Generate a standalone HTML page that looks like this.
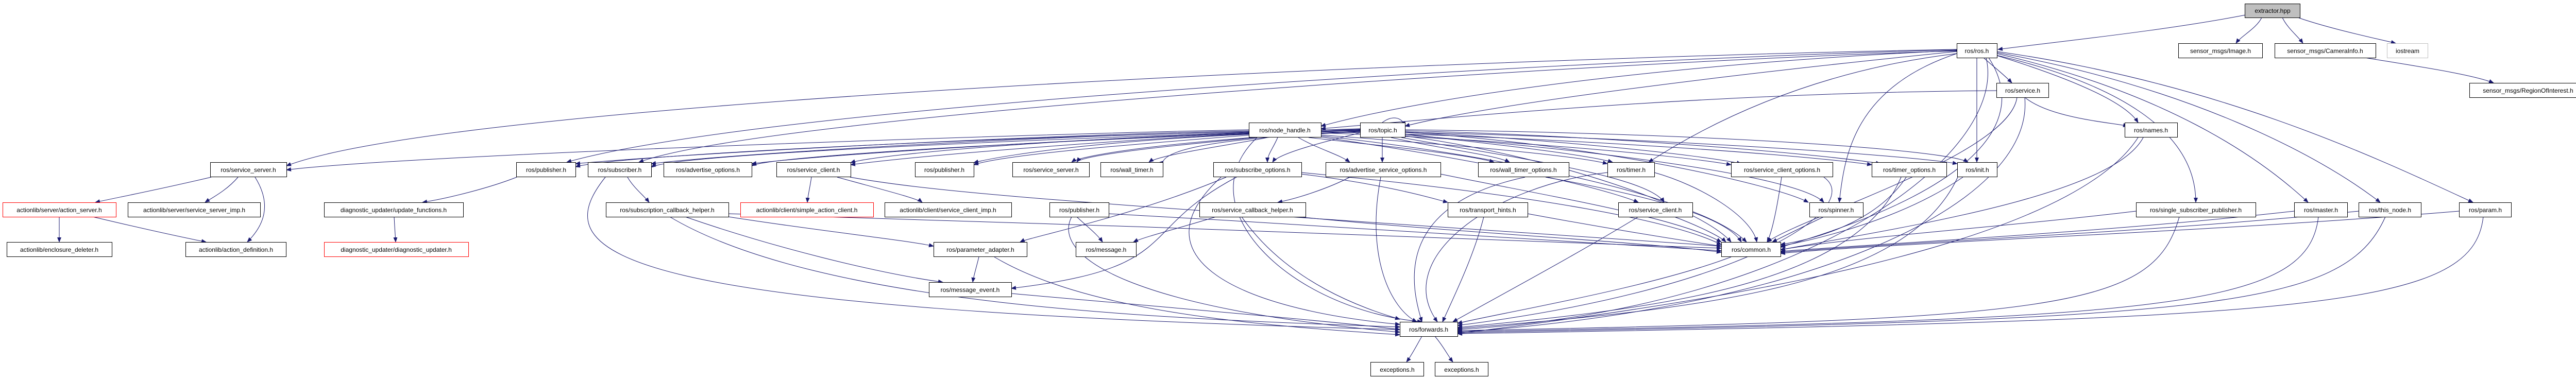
<!DOCTYPE html>
<html><head><meta charset="utf-8"><style>
html,body{margin:0;padding:0;background:#fff;}
svg{display:block;}
text{font-family:"Liberation Sans",sans-serif;font-size:12px;fill:#000;}
.n{fill:#fff;stroke:#000;stroke-width:1;}
.r{fill:#fff;stroke:#ff0000;stroke-width:1;}
.e{fill:none;stroke:#191970;stroke-width:1;marker-end:url(#a);}
</style></head><body>
<svg width="5025" height="736" viewBox="0 0 5025 736" xmlns="http://www.w3.org/2000/svg">
<defs><marker id="a" markerWidth="10" markerHeight="8" refX="9" refY="4" orient="auto" markerUnits="userSpaceOnUse"><polygon points="0,0 10,4 0,8" fill="#191970"/></marker></defs>
<g>
<path class="e" d="M4364,28 C4200,60 4000,80 3878,96"/>
<path class="e" d="M4390,34 C4380,55 4350,70 4340,84"/>
<path class="e" d="M4430,34 C4440,55 4460,70 4470,84"/>
<path class="e" d="M4460,34 C4520,55 4600,72 4650,84"/>
<path class="e" d="M4590,112 C4700,130 4800,145 4840,161"/>
<path class="e" d="M3850,112 C3870,130 3890,145 3905,161"/>
<path class="e" d="M3870,106 C3980,140 4120,190 4150,238"/>
<path class="e" d="M3837,112 C3837,200 3837,260 3837,315"/>
<path class="e" d="M3870,106 C4100,160 4262,250 4262,393"/>
<path class="e" d="M3876,104 C4200,180 4380,300 4480,393"/>
<path class="e" d="M3876,102 C4250,170 4500,300 4620,393"/>
<path class="e" d="M3876,100 C4300,160 4600,300 4800,393"/>
<path class="e" d="M3860,112 C3950,250 3800,380 3456,480"/>
<path class="e" d="M3855,112 C3900,300 3500,600 2829,640"/>
<path class="e" d="M3798,98 C3300,120 2800,180 2564,245"/>
<path class="e" d="M3798,100 C3400,140 2900,200 2727,245"/>
<path class="e" d="M3798,96 C3000,110 900,190 556,322"/>
<path class="e" d="M3798,97 C3200,110 1500,200 1100,315"/>
<path class="e" d="M3798,99 C3200,115 1500,220 1240,315"/>
<path class="e" d="M3798,104 C3500,140 3300,250 3200,315"/>
<path class="e" d="M3798,104 C3600,170 3580,300 3570,393"/>
<path class="e" d="M3930,189 C3980,230 4100,238 4130,245"/>
<path class="e" d="M3875,176 C3300,180 2800,230 2564,250"/>
<path class="e" d="M3915,189 C3900,300 3500,420 3430,470"/>
<path class="e" d="M3930,189 C3950,400 3500,600 2829,645"/>
<path class="e" d="M4160,267 C4100,380 3700,440 3456,485"/>
<path class="e" d="M4150,267 C4000,500 3200,600 2829,648"/>
<path class="e" d="M2424,252 C2000,260 800,300 556,330"/>
<path class="e" d="M2424,254 C2000,262 1300,300 1117,318"/>
<path class="e" d="M2424,256 C2000,264 1400,300 1264,318"/>
<path class="e" d="M2424,258 C2100,270 1600,300 1459,318"/>
<path class="e" d="M2424,260 C2200,270 1800,300 1651,320"/>
<path class="e" d="M2430,262 C2200,280 1950,300 1890,320"/>
<path class="e" d="M2440,267 C2300,280 2100,300 2090,315"/>
<path class="e" d="M2460,267 C2400,280 2250,300 2230,315"/>
<path class="e" d="M2480,267 C2470,290 2460,300 2460,315"/>
<path class="e" d="M2520,267 C2560,290 2600,300 2620,315"/>
<path class="e" d="M2540,267 C2700,285 2850,300 2900,315"/>
<path class="e" d="M2564,262 C2800,280 3050,300 3120,318"/>
<path class="e" d="M2564,258 C2900,270 3250,300 3360,320"/>
<path class="e" d="M2564,256 C3000,265 3500,300 3633,320"/>
<path class="e" d="M2564,254 C3100,260 3700,300 3799,318"/>
<path class="e" d="M2564,264 C2900,300 3300,380 3390,470"/>
<path class="e" d="M2440,267 C2300,400 2500,600 2760,625"/>
<path class="e" d="M2564,266 C3000,330 3150,380 3180,393"/>
<path class="e" d="M2683,238 C2700,225 2720,225 2727,245"/>
<path class="e" d="M2640,252 C2200,265 1500,300 1459,322"/>
<path class="e" d="M2683,267 C2683,290 2683,300 2683,315"/>
<path class="e" d="M2700,267 C2800,290 2900,300 2930,315"/>
<path class="e" d="M2727,260 C2900,280 3080,300 3130,315"/>
<path class="e" d="M2727,256 C3000,270 3300,300 3380,318"/>
<path class="e" d="M2727,254 C3100,262 3550,300 3650,318"/>
<path class="e" d="M2640,258 C2550,280 2480,300 2470,315"/>
<path class="e" d="M2640,255 C2300,270 2100,300 2080,315"/>
<path class="e" d="M2640,254 C2200,262 1950,300 1890,316"/>
<path class="e" d="M2640,253 C2100,262 1700,300 1651,316"/>
<path class="e" d="M2640,256 C2300,270 2250,300 2257,322"/>
<path class="e" d="M2727,262 C3200,300 3500,350 3540,393"/>
<path class="e" d="M2720,267 C2900,300 3200,340 3230,393"/>
<path class="e" d="M2727,264 C3000,300 3300,400 3360,470"/>
<path class="e" d="M2640,250 C2000,270 1300,300 1264,325"/>
<path class="e" d="M2640,251 C2000,262 1200,300 1117,324"/>
<path class="e" d="M2727,252 C3300,258 3780,290 3820,315"/>
<path class="e" d="M2727,257 C3100,280 3450,360 3510,393"/>
<path class="e" d="M410,344 C300,370 220,385 185,393"/>
<path class="e" d="M462,344 C440,370 410,385 398,393"/>
<path class="e" d="M495,344 C530,400 510,440 480,470"/>
<path class="e" d="M115,421 C115,440 115,455 115,470"/>
<path class="e" d="M180,421 C260,440 350,460 400,470"/>
<path class="e" d="M1003,344 C950,365 870,385 820,393"/>
<path class="e" d="M765,421 C766,440 767,455 768,470"/>
<path class="e" d="M1218,344 C1230,365 1250,380 1260,393"/>
<path class="e" d="M1175,344 C1050,500 1200,600 2717,640"/>
<path class="e" d="M1575,344 C1572,365 1568,380 1567,393"/>
<path class="e" d="M1625,344 C1700,365 1780,385 1790,393"/>
<path class="e" d="M1650,344 C1850,380 2200,400 3341,478"/>
<path class="e" d="M1414,421 C1600,450 1750,465 1812,478"/>
<path class="e" d="M1330,421 C1500,480 1700,530 1830,548"/>
<path class="e" d="M1300,421 C1600,600 2300,620 2717,635"/>
<path class="e" d="M1414,415 C2000,430 3000,470 3341,482"/>
<path class="e" d="M2380,344 C2200,420 2000,460 1980,470"/>
<path class="e" d="M2400,344 C2200,450 2300,520 1963,560"/>
<path class="e" d="M2526,338 C2700,360 2780,385 2810,393"/>
<path class="e" d="M2526,335 C3000,380 3250,430 3341,475"/>
<path class="e" d="M2370,344 C2200,500 2400,600 2717,630"/>
<path class="e" d="M2620,344 C2580,365 2520,385 2480,393"/>
<path class="e" d="M2680,344 C2650,500 2700,600 2750,625"/>
<path class="e" d="M2796,338 C3000,380 3250,420 3341,470"/>
<path class="e" d="M2090,421 C2110,440 2130,455 2140,470"/>
<path class="e" d="M2080,421 C2040,500 2200,600 2717,645"/>
<path class="e" d="M2152,415 C2600,440 3100,470 3341,487"/>
<path class="e" d="M2360,421 C2300,440 2220,460 2200,470"/>
<path class="e" d="M2410,421 C2500,550 2650,600 2717,620"/>
<path class="e" d="M2520,421 C2800,450 3200,470 3341,490"/>
<path class="e" d="M1900,499 C1895,520 1890,535 1888,548"/>
<path class="e" d="M1930,499 C2100,600 2400,630 2717,650"/>
<path class="e" d="M1963,570 C2300,600 2600,625 2717,640"/>
<path class="e" d="M2880,421 C2860,500 2820,580 2800,625"/>
<path class="e" d="M2965,415 C3100,440 3250,465 3341,478"/>
<path class="e" d="M3180,421 C3050,500 2900,580 2820,625"/>
<path class="e" d="M3250,421 C3300,440 3340,460 3350,470"/>
<path class="e" d="M3540,421 C3500,440 3460,460 3440,470"/>
<path class="e" d="M3360,499 C3200,560 2900,610 2829,628"/>
<path class="e" d="M2960,344 C2700,400 2740,560 2760,625"/>
<path class="e" d="M3000,344 C3200,380 3350,420 3380,470"/>
<path class="e" d="M3120,335 C2900,360 2700,500 2790,625"/>
<path class="e" d="M3211,335 C3300,360 3400,420 3410,470"/>
<path class="e" d="M3458,344 C3450,400 3440,450 3430,470"/>
<path class="e" d="M3540,344 C3620,400 3400,560 2829,632"/>
<path class="e" d="M3700,344 C3650,420 3550,460 3456,475"/>
<path class="e" d="M3690,344 C3600,560 3200,600 2829,636"/>
<path class="e" d="M3810,344 C3700,420 3550,460 3456,478"/>
<path class="e" d="M3800,344 C3700,560 3300,600 2829,638"/>
<path class="e" d="M4146,410 C3900,440 3600,460 3456,485"/>
<path class="e" d="M4230,421 C4180,600 4000,620 2829,642"/>
<path class="e" d="M4453,410 C4100,450 3700,470 3456,488"/>
<path class="e" d="M4500,421 C4480,600 4200,620 2829,644"/>
<path class="e" d="M4578,410 C4200,450 3700,470 3456,490"/>
<path class="e" d="M4630,421 C4550,600 4300,620 2829,646"/>
<path class="e" d="M4773,410 C4300,450 3700,470 3456,492"/>
<path class="e" d="M4820,421 C4800,600 4500,620 2829,648"/>
<path class="e" d="M2760,653 C2750,670 2740,690 2730,703"/>
<path class="e" d="M2785,653 C2800,670 2810,690 2820,703"/>
</g>
<g>
<rect x="4357.5" y="7.5" width="107" height="27" fill="#bfbfbf" stroke="#000"/><text x="4411" y="25" text-anchor="middle">extractor.hpp</text>
<rect class="n" x="3798.5" y="84.5" width="78" height="28"/><text x="3837" y="103" text-anchor="middle">ros/ros.h</text>
<rect class="n" x="4228.5" y="84.5" width="163" height="28"/><text x="4310" y="103" text-anchor="middle">sensor_msgs/Image.h</text>
<rect class="n" x="4415.5" y="84.5" width="196" height="28"/><text x="4513" y="103" text-anchor="middle">sensor_msgs/CameraInfo.h</text>
<rect x="4633.5" y="84.5" width="79" height="28" fill="#fff" stroke="#bfbfbf"/><text x="4673" y="103" text-anchor="middle">iostream</text>
<rect class="n" x="3875.5" y="161.5" width="101" height="28"/><text x="3926" y="180" text-anchor="middle">ros/service.h</text>
<rect class="n" x="4793.5" y="161.5" width="228" height="28"/><text x="4907" y="180" text-anchor="middle">sensor_msgs/RegionOfInterest.h</text>
<rect class="n" x="2424.5" y="238.5" width="140" height="28"/><text x="2494" y="257" text-anchor="middle">ros/node_handle.h</text>
<rect class="n" x="2640.5" y="238.5" width="87" height="28"/><text x="2684" y="257" text-anchor="middle">ros/topic.h</text>
<rect class="n" x="4124.5" y="238.5" width="102" height="28"/><text x="4175" y="257" text-anchor="middle">ros/names.h</text>

<rect class="n" x="408.5" y="315.5" width="148" height="28"/><text x="482" y="334" text-anchor="middle">ros/service_server.h</text>
<rect class="n" x="1002.5" y="315.5" width="115" height="28"/><text x="1060" y="334" text-anchor="middle">ros/publisher.h</text>
<rect class="n" x="1141.5" y="315.5" width="123" height="28"/><text x="1203" y="334" text-anchor="middle">ros/subscriber.h</text>
<rect class="n" x="1288.5" y="315.5" width="171" height="28"/><text x="1374" y="334" text-anchor="middle">ros/advertise_options.h</text>
<rect class="n" x="1507.5" y="315.5" width="144" height="28"/><text x="1579" y="334" text-anchor="middle">ros/service_client.h</text>
<rect class="n" x="1776.5" y="315.5" width="114" height="28"/><text x="1833" y="334" text-anchor="middle">ros/publisher.h</text>
<rect class="n" x="1965.5" y="315.5" width="149" height="28"/><text x="2040" y="334" text-anchor="middle">ros/service_server.h</text>
<rect class="n" x="2136.5" y="315.5" width="121" height="28"/><text x="2197" y="334" text-anchor="middle">ros/wall_timer.h</text>
<rect class="n" x="2355.5" y="315.5" width="171" height="28"/><text x="2441" y="334" text-anchor="middle">ros/subscribe_options.h</text>
<rect class="n" x="2573.5" y="315.5" width="223" height="28"/><text x="2685" y="334" text-anchor="middle">ros/advertise_service_options.h</text>
<rect class="n" x="2869.5" y="315.5" width="176" height="28"/><text x="2957" y="334" text-anchor="middle">ros/wall_timer_options.h</text>
<rect class="n" x="3120.5" y="315.5" width="91" height="28"/><text x="3166" y="334" text-anchor="middle">ros/timer.h</text>
<rect class="n" x="3360.5" y="315.5" width="197" height="28"/><text x="3459" y="334" text-anchor="middle">ros/service_client_options.h</text>
<rect class="n" x="3633.5" y="315.5" width="145" height="28"/><text x="3706" y="334" text-anchor="middle">ros/timer_options.h</text>
<rect class="n" x="3799.5" y="315.5" width="77" height="28"/><text x="3838" y="334" text-anchor="middle">ros/init.h</text>

<rect class="r" x="5.5" y="393.5" width="220" height="28"/><text x="115" y="412" text-anchor="middle">actionlib/server/action_server.h</text>
<rect class="n" x="248.5" y="393.5" width="257" height="28"/><text x="377" y="412" text-anchor="middle">actionlib/server/service_server_imp.h</text>
<rect class="n" x="629.5" y="393.5" width="270" height="28"/><text x="764" y="412" text-anchor="middle">diagnostic_updater/update_functions.h</text>
<rect class="n" x="1176.5" y="393.5" width="238" height="28"/><text x="1295" y="412" text-anchor="middle">ros/subscription_callback_helper.h</text>
<rect class="r" x="1437.5" y="393.5" width="258" height="28"/><text x="1566" y="412" text-anchor="middle">actionlib/client/simple_action_client.h</text>
<rect class="n" x="1717.5" y="393.5" width="246" height="28"/><text x="1840" y="412" text-anchor="middle">actionlib/client/service_client_imp.h</text>
<rect class="n" x="2037.5" y="393.5" width="115" height="28"/><text x="2095" y="412" text-anchor="middle">ros/publisher.h</text>
<rect class="n" x="2328.5" y="393.5" width="206" height="28"/><text x="2431" y="412" text-anchor="middle">ros/service_callback_helper.h</text>
<rect class="n" x="2810.5" y="393.5" width="155" height="28"/><text x="2888" y="412" text-anchor="middle">ros/transport_hints.h</text>
<rect class="n" x="3141.5" y="393.5" width="144" height="28"/><text x="3213" y="412" text-anchor="middle">ros/service_client.h</text>
<rect class="n" x="3512.5" y="393.5" width="104" height="28"/><text x="3564" y="412" text-anchor="middle">ros/spinner.h</text>
<rect class="n" x="4146.5" y="393.5" width="232" height="28"/><text x="4262" y="412" text-anchor="middle">ros/single_subscriber_publisher.h</text>
<rect class="n" x="4453.5" y="393.5" width="103" height="28"/><text x="4505" y="412" text-anchor="middle">ros/master.h</text>
<rect class="n" x="4578.5" y="393.5" width="121" height="28"/><text x="4639" y="412" text-anchor="middle">ros/this_node.h</text>
<rect class="n" x="4773.5" y="393.5" width="101" height="28"/><text x="4824" y="412" text-anchor="middle">ros/param.h</text>

<rect class="n" x="13.5" y="470.5" width="204" height="28"/><text x="115" y="489" text-anchor="middle">actionlib/enclosure_deleter.h</text>
<rect class="n" x="360.5" y="470.5" width="195" height="28"/><text x="458" y="489" text-anchor="middle">actionlib/action_definition.h</text>
<rect class="r" x="629.5" y="470.5" width="280" height="28"/><text x="769" y="489" text-anchor="middle">diagnostic_updater/diagnostic_updater.h</text>
<rect class="n" x="1812.5" y="470.5" width="181" height="28"/><text x="1903" y="489" text-anchor="middle">ros/parameter_adapter.h</text>
<rect class="n" x="2088.5" y="470.5" width="117" height="28"/><text x="2147" y="489" text-anchor="middle">ros/message.h</text>
<rect class="n" x="3341.5" y="470.5" width="115" height="28"/><text x="3399" y="489" text-anchor="middle">ros/common.h</text>
<rect class="n" x="1803.5" y="548.5" width="160" height="28"/><text x="1883" y="567" text-anchor="middle">ros/message_event.h</text>
<rect class="n" x="2717.5" y="625.5" width="112" height="28"/><text x="2773" y="644" text-anchor="middle">ros/forwards.h</text>
<rect class="n" x="2660.5" y="703.5" width="103" height="27"/><text x="2712" y="722" text-anchor="middle">exceptions.h</text>
<rect class="n" x="2785.5" y="703.5" width="103" height="27"/><text x="2837" y="722" text-anchor="middle">exceptions.h</text>
</g>
</svg>
</body></html>
